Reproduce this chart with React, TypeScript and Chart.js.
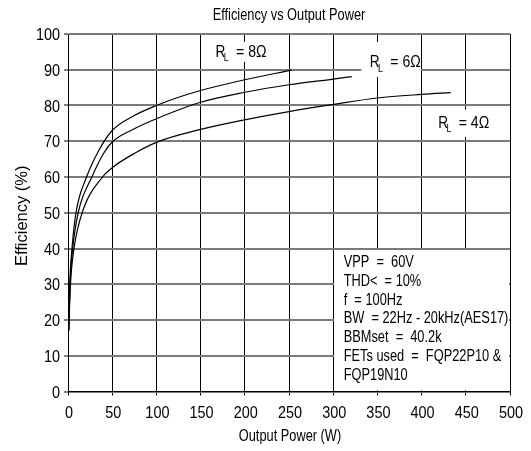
import { useEffect, useRef } from 'react';
import { Chart, registerables } from 'chart.js';

Chart.register(...registerables);

// ---- data ----
const chartTitle = 'Efficiency vs Output Power';
const xAxisTitle = 'Output Power (W)';
const yAxisTitle = 'Efficiency (%)';

const power8 = [0.8, 2, 4.5, 9, 21, 35, 50, 75, 100, 125, 150, 200, 253];
const eff8 = [17, 30, 40, 50, 60, 67.5, 73, 77.2, 80, 82.3, 84.2, 87.2, 89.9];

const power6 = [0.8, 2.3, 5.3, 11.5, 27, 40, 50, 75, 100, 150, 200, 250, 300, 321];
const eff6 = [17, 30, 40, 50, 60, 66.5, 69.8, 73.5, 76.3, 80.9, 83.7, 85.8, 87.4, 88.1];

const power4 = [0.8, 2.8, 6.8, 16, 39, 50, 75, 100, 150, 200, 250, 300, 350, 400, 433];
const eff4 = [17, 30, 40, 50, 60, 62.6, 66.6, 69.7, 73.3, 76, 78.3, 80.3, 82.1, 83.1, 83.6];

const loadValues = ['8Ω', '6Ω', '4Ω'];

const notes = [
  'VPP  =  60V',
  'THD<  = 10%',
  'f  = 100Hz',
  'BW  = 22Hz - 20kHz(AES17)',
  'BBMset  =  40.2k',
  'FETs used  =  FQP22P10 &',
  'FQP19N10',
];

const FONT = '"Liberation Sans", Arial, sans-serif';

function drawText(ctx: CanvasRenderingContext2D, text: string, x: number, y: number, size: number, sx: number, align: string) {
  ctx.save();
  ctx.font = `${size}px ${FONT}`;
  ctx.textBaseline = 'alphabetic';
  ctx.textAlign = 'left';
  const w = ctx.measureText(text).width * sx;
  const left = align === 'center' ? x - w / 2 : align === 'right' ? x - w : x;
  ctx.translate(left, y);
  ctx.scale(sx, 1);
  ctx.fillStyle = '#000';
  ctx.fillText(text, 0, 0);
  ctx.restore();
  return w;
}

// label anchors in data units (W, %)
const labelAnchors = [
  { text: loadValues[0], w: 166.9, e: 93.7, box: [161, 97.8, 229, 92.2] },
  { text: loadValues[1], w: 341.4, e: 90.7, box: [332, 97.8, 399, 88] },
  { text: loadValues[2], w: 418.8, e: 73.8, box: [410, 78.9, 484, 71.2] },
];

const annotPlugin = {
  id: 'annot',
  afterDatasetsDraw(chart: any) {
    const ctx: CanvasRenderingContext2D = chart.ctx;
    const xs = chart.scales.x;
    const ys = chart.scales.y;
    const X = (v: number) => xs.getPixelForValue(v);
    const Y = (v: number) => ys.getPixelForValue(v);
    ctx.save();
    ctx.fillStyle = '#fff';
    for (const a of labelAnchors) {
      const [x0, y0, x1, y1] = a.box;
      ctx.fillRect(X(x0), Y(y0), X(x1) - X(x0), Y(y1) - Y(y0));
    }
    ctx.fillRect(X(300) + 1, Y(40) + 1.5, X(500) - X(300) - 2, Y(0) - Y(40) - 2.5);
    ctx.restore();

    for (const a of labelAnchors) {
      const x = X(a.w);
      const y = Y(a.e);
      const rw = drawText(ctx, 'R', x, y, 16, 0.85, 'left');
      drawText(ctx, 'L', x + rw - 1.5, y + 4.5, 10.5, 0.85, 'left');
      drawText(ctx, '= ' + a.text, x + 20.5, y, 16, 0.88, 'left');
    }

    const nx = X(300) + 10.5;
    let ny = Y(40) + 18.5;
    for (const n of notes) {
      drawText(ctx, n, nx, ny, 16, 0.8, 'left');
      ny += 18.8;
    }
  },
  afterDraw(chart: any) {
    const ctx: CanvasRenderingContext2D = chart.ctx;
    const xs = chart.scales.x;
    const ys = chart.scales.y;
    const X = (v: number) => xs.getPixelForValue(v);
    const Y = (v: number) => ys.getPixelForValue(v);
    const ca = chart.chartArea;
    for (const t of ys.ticks) {
      drawText(ctx, String(t.value), X(0) - 8, Y(t.value) + 6, 17, 0.85, 'right');
    }
    for (const t of xs.ticks) {
      drawText(ctx, String(t.value), X(t.value) + 1, Y(0) + 26.5, 17, 0.85, 'center');
    }
    const cx = (ca.left + ca.right) / 2;
    drawText(ctx, chartTitle, cx, 12, 16, 0.8, 'center');
    drawText(ctx, xAxisTitle, cx + 1, 433, 16, 0.8, 'center');
    ctx.save();
    ctx.translate(19, (ca.top + ca.bottom) / 2 + 3);
    ctx.rotate(-Math.PI / 2);
    ctx.font = `16.5px ${FONT}`;
    ctx.textAlign = 'center';
    ctx.textBaseline = 'alphabetic';
    ctx.fillStyle = '#000';
    ctx.fillText(yAxisTitle, 0, 0);
    ctx.restore();
  },
};

function toPoints(xs: number[], ys: number[]) {
  return xs.map((x, i) => ({ x, y: ys[i] }));
}

export default function App() {
  const ref = useRef<HTMLCanvasElement | null>(null);
  useEffect(() => {
    if (!ref.current) return;
    const ds = (xs: number[], ys: number[], label: string) => ({
      label,
      data: toPoints(xs, ys),
      borderColor: '#000',
      borderWidth: 1.2,
      pointRadius: 0,
      fill: false,
      cubicInterpolationMode: 'monotone' as const,
    });
    const chart = new Chart(ref.current, {
      type: 'line',
      data: {
        datasets: [
          ds(power8, eff8, loadValues[0]),
          ds(power6, eff6, loadValues[1]),
          ds(power4, eff4, loadValues[2]),
        ],
      },
      options: {
        responsive: false,
        animation: false,
        events: [],
        layout: { padding: { left: 56, top: 26, right: 13, bottom: 55.5 } },
        plugins: {
          legend: { display: false },
          title: { display: false },
          tooltip: { enabled: false },
        },
        scales: {
          x: {
            type: 'linear',
            min: 0,
            max: 500,
            ticks: { stepSize: 50, display: false },
            grid: { color: '#000', lineWidth: 1, tickLength: 4, tickColor: '#000', tickWidth: 1 },
            border: { display: true, color: '#000', width: 1 },
          },
          y: {
            type: 'linear',
            min: 0,
            max: 100,
            ticks: { stepSize: 10, display: false },
            grid: { color: '#7a7a7a', lineWidth: 2, tickLength: 4, tickColor: '#000', tickWidth: 1 },
            border: { display: true, color: '#000', width: 1 },
          },
        },
      },
      plugins: [annotPlugin],
    });
    return () => chart.destroy();
  }, []);
  return <canvas ref={ref} width={515} height={443} style={{ display: 'block' }} />;
}
